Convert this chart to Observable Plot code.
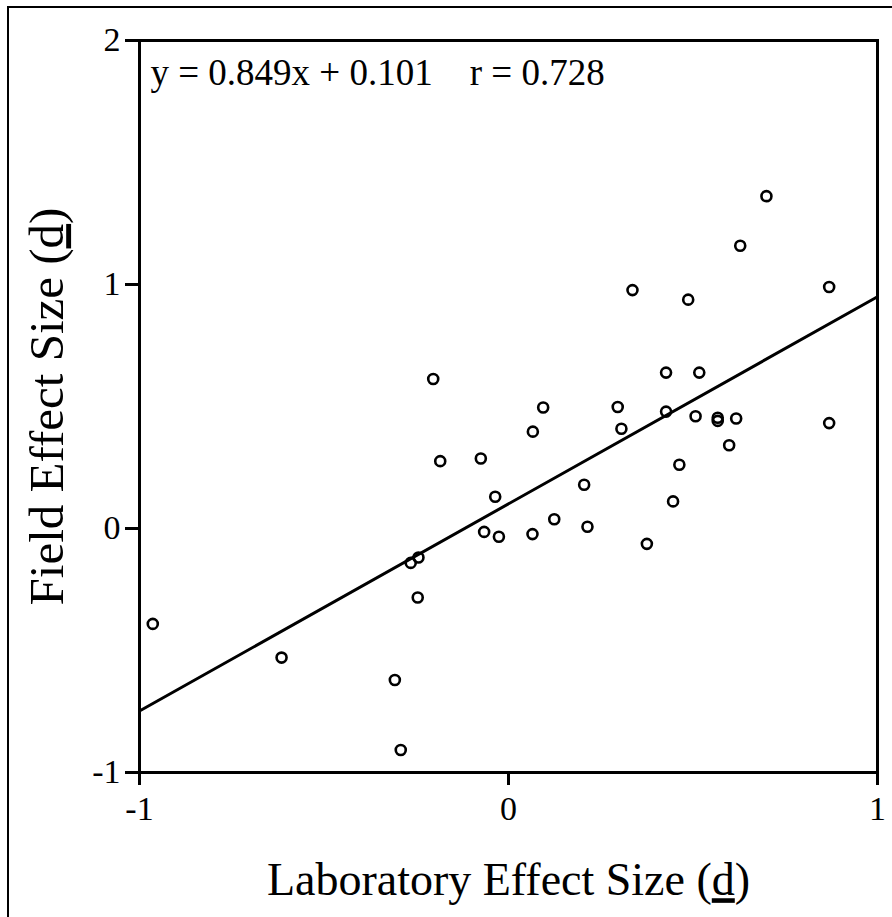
<!DOCTYPE html>
<html>
<head>
<meta charset="utf-8">
<script src="https://cdn.jsdelivr.net/npm/d3@7"></script>
<script src="https://cdn.jsdelivr.net/npm/@observablehq/plot@0.6"></script>
<style>
  html, body { margin: 0; padding: 0; background: white; }
  #wrap { position: relative; width: 892px; height: 917px; overflow: hidden; }
  #border { position: absolute; left: 7px; top: 6px; width: 892px; height: 917px;
            border-left: 2px solid #000; border-top: 2px solid #000; box-sizing: border-box; pointer-events: none; }
</style>
</head>
<body>
<div id="wrap"><div id="chart"></div><div id="border"></div></div>
<script>
// Laboratory effect size (x) and field effect size (y)
const labX = [-0.964, -0.615, -0.308, -0.292, -0.265, -0.244, -0.246, -0.204, -0.185, -0.075,
              -0.066, -0.036, -0.026, 0.066, 0.065, 0.094, 0.124, 0.205, 0.214, 0.296,
              0.306, 0.336, 0.375, 0.427, 0.427, 0.446, 0.463, 0.487, 0.507, 0.517,
              0.567, 0.567, 0.598, 0.617, 0.628, 0.699, 0.869, 0.869];
const fieldY = [-0.391, -0.529, -0.621, -0.908, -0.141, -0.119, -0.283, 0.613, 0.276, 0.287,
                -0.014, 0.130, -0.034, 0.397, -0.023, 0.496, 0.038, 0.179, 0.007, 0.498,
                0.409, 0.977, -0.063, 0.639, 0.479, 0.111, 0.261, 0.938, 0.460, 0.639,
                0.454, 0.441, 0.341, 0.451, 1.159, 1.362, 0.990, 0.432];
const slope = 0.849, intercept = 0.101, rValue = 0.728;
const xTicks = [-1, 0, 1];
const yTicks = [-1, 0, 1, 2];
const xDomain = [-1, 1];
const yDomain = [-1, 2];
const xTitle = "Laboratory Effect Size (d)";
const yTitle = "Field Effect Size (d)";
const equation = `y = ${slope}x + ${intercept}\u00a0\u00a0\u00a0\u00a0r = ${rValue}`;

const points = labX.map((x, i) => ({x, y: fieldY[i]}));
const fit = xDomain.map(x => ({x, y: slope * x + intercept}));

const chart = Plot.plot({
  width: 892,
  height: 917,
  marginLeft: 139,
  marginRight: 15,
  marginTop: 40,
  marginBottom: 145,
  style: {fontFamily: "'Liberation Serif', 'Times New Roman', serif", background: "white", color: "black"},
  x: {domain: xDomain},
  y: {domain: yDomain},
  marks: [
    Plot.axisX({ticks: xTicks, tickSize: 13, tickPadding: 10, fontSize: 34, strokeWidth: 3,
                tickFormat: d => String(d), label: null}),
    Plot.axisY({ticks: yTicks, tickSize: 14, tickPadding: 5, fontSize: 34, strokeWidth: 3,
                tickFormat: d => String(d), label: null}),
    Plot.frame({stroke: "black", strokeWidth: 3}),
    Plot.line(fit, {x: "x", y: "y", stroke: "black", strokeWidth: 3}),
    Plot.dot(points, {x: "x", y: "y", r: 5, stroke: "black", strokeWidth: 2.6, fill: "none"}),
    Plot.text([equation], {frameAnchor: "top-left", dx: 11, dy: 33, textAnchor: "start",
                           lineAnchor: "middle", fontSize: 37, fill: "black"}),
    Plot.text([xTitle], {frameAnchor: "bottom", dy: 108, textAnchor: "middle", lineAnchor: "middle", fontSize: 46, fill: "black"}),
    Plot.text([yTitle], {frameAnchor: "left", dx: -92, rotate: -90, textAnchor: "middle", lineAnchor: "middle", fontSize: 49, fill: "black"})
  ]
});
document.getElementById("chart").appendChild(chart);

// underline the "d" in the axis titles
d3.select(chart).selectAll("text").each(function() {
  const t = this.textContent;
  if (t.endsWith("(d)")) {
    const el = d3.select(this);
    const prefix = t.slice(0, -3);
    el.text(null);
    el.append("tspan").text(prefix + "(");
    el.append("tspan").attr("text-decoration", "underline").style("text-decoration", "underline").text("d");
    el.append("tspan").text(")");
  }
});
</script>
</body>
</html>
